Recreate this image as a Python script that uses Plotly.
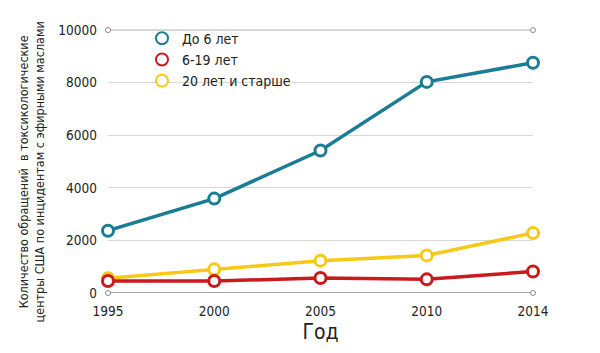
import plotly.graph_objects as go

years = ["1995", "2000", "2005", "2010", "2014"]
under6 = [2370, 3590, 5420, 8030, 8760]
age6_19 = [455, 455, 570, 520, 820]
age20plus = [560, 900, 1230, 1430, 2280]
yticks = [0, 2000, 4000, 6000, 8000, 10000]

series = [
    ("До 6 лет", under6, "#1b7c96"),
    ("6-19 лет", age6_19, "#c91a1e"),
    ("20 лет и старше", age20plus, "#f6c918"),
]

font = "DejaVu Sans Condensed, Liberation Sans Narrow, Arial"

fig = go.Figure()

# axis end lines with dots on the 0 and 10000 levels
for yv, lc in ((yticks[0], "#8a8a8a"), (yticks[-1], "#d0d0d0")):
    fig.add_trace(go.Scatter(
        x=[years[0], years[-1]], y=[yv, yv], mode="lines+markers",
        line=dict(color=lc, width=1.5),
        marker=dict(symbol="circle", size=5, color="white",
                    line=dict(color="#8a8a8a", width=1)),
        showlegend=False, hoverinfo="skip", cliponaxis=False))

for name, vals, col in reversed(series):
    fig.add_trace(go.Scatter(
        x=years, y=vals, name=name, mode="lines+markers",
        line=dict(color=col, width=3.5),
        marker=dict(symbol="circle", size=11, color="white",
                    line=dict(color=col, width=3)),
        showlegend=False, cliponaxis=False))

# legend entries (marker only)
for name, vals, col in series:
    fig.add_trace(go.Scatter(
        x=[None], y=[None], name=name, mode="markers",
        marker=dict(symbol="circle", size=10, color="white",
                    line=dict(color=col, width=3)),
        showlegend=True))

fig.update_layout(
    width=600, height=353,
    margin=dict(l=108, r=67, t=28, b=60),
    plot_bgcolor="white", paper_bgcolor="white",
    font=dict(family=font, size=13, color="#222"),
    legend=dict(x=0.08, y=1.02, xanchor="left", yanchor="top",
                bgcolor="rgba(0,0,0,0)",
                font=dict(size=14, family=font), itemsizing="constant",
                tracegroupgap=0, itemwidth=30),
    xaxis=dict(type="category", categoryorder="array", categoryarray=years,
               range=[0, 4], showgrid=False,
               showline=False, zeroline=False, ticks="",
               ticklabelstandoff=8,
               tickfont=dict(size=13.5, family=font),
               title=dict(text="Год", font=dict(size=21, family=font),
                          standoff=6)),
    yaxis=dict(range=[0, 10080], tickvals=yticks,
               ticktext=[str(v) for v in yticks],
               showgrid=True, gridcolor="#d8d8d8", gridwidth=1,
               zeroline=False,
               showline=False, ticks="", ticklabelstandoff=10,
               tickfont=dict(size=13.5, family=font)),
    annotations=[dict(
        text="Количество обращений  в токсикологические<br>центры США по инцидентам с эфирными маслами",
        xref="paper", yref="paper", x=0, y=0.455, xanchor="center", yanchor="middle",
        xshift=-77, textangle=-90, showarrow=False,
        font=dict(size=12.5, family=font, color="#222"))],
)

fig.write_html("out.html")
